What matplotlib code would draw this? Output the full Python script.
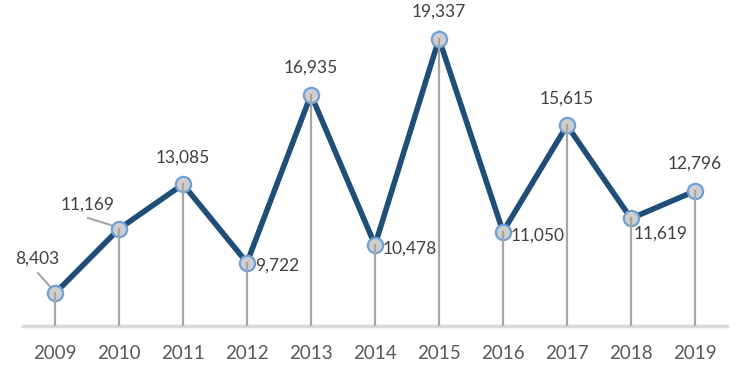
import matplotlib
matplotlib.use("Agg")
import matplotlib.pyplot as plt

years = ["2009", "2010", "2011", "2012", "2013", "2014", "2015", "2016", "2017", "2018", "2019"]
values = [8403, 11169, 13085, 9722, 16935, 10478, 19337, 11050, 15615, 11619, 12796]
labels = ["8,403", "11,169", "13,085", "9,722", "16,935", "10,478", "19,337", "11,050", "15,615", "11,619", "12,796"]
# label placement: 'above', 'right', 'rightlow', 'leader'
placement = ["leader", "leader", "above", "right", "above", "right", "above", "right", "above", "rightlow", "above"]

plt.rcParams['font.family'] = ['Lato', 'DejaVu Sans']

fig = plt.figure(figsize=(7.5, 3.79), dpi=100)
ax = fig.add_axes([23/750, 53/379, 704/750, 326/379])
x = list(range(len(years)))
ax.set_xlim(-0.5, len(years) - 0.5)
ax.set_ylim(7000, 21000)

ax.axhline(7000, color="#d9d9d9", lw=2.5, zorder=0, clip_on=False)
ax.plot(x, values, color="#1f4e79", lw=4, zorder=2, solid_joinstyle="miter")
ax.plot(x, values, 'o', ms=11, mfc="#d0cece", mec="#6fa0d4", mew=1.6, zorder=3)
for xi, v in zip(x, values):
    ax.plot([xi, xi], [7000, v], color="#a6a6a6", lw=1.6, zorder=4)

fs = 12.5
tc = "#404040"
for xi, v, lab, p in zip(x, values, labels, placement):
    if p == "above":
        ax.annotate(lab, (xi, v), xytext=(0, 19.5), textcoords="offset points",
                    ha="center", va="center", fontsize=fs, color=tc)
    elif p == "right":
        ax.annotate(lab, (xi, v), xytext=(5.5, -2.5), textcoords="offset points",
                    ha="left", va="center", fontsize=fs, color=tc)
    elif p == "rightlow":
        ax.annotate(lab, (xi, v), xytext=(2, -11), textcoords="offset points",
                    ha="left", va="center", fontsize=fs, color=tc)

# leader-line labels
ax.text(-0.27, 9877, labels[0], ha="center", va="center", fontsize=fs, color=tc)
ax.plot([-0.266, -0.031], [9276, 8546], color="#a6a6a6", lw=1.5, zorder=1)
ax.text(0.516, 12196, labels[1], ha="center", va="center", fontsize=fs, color=tc)
ax.plot([0.516, 0.969], [11638, 11251], color="#a6a6a6", lw=1.5, zorder=1)

ax.set_xticks(x)
ax.set_xticklabels(years, fontsize=13.5, color="#595959")
ax.tick_params(axis="x", length=0, pad=14)
ax.set_yticks([])
for s in ax.spines.values():
    s.set_visible(False)

fig.savefig("out.png", dpi=100)
